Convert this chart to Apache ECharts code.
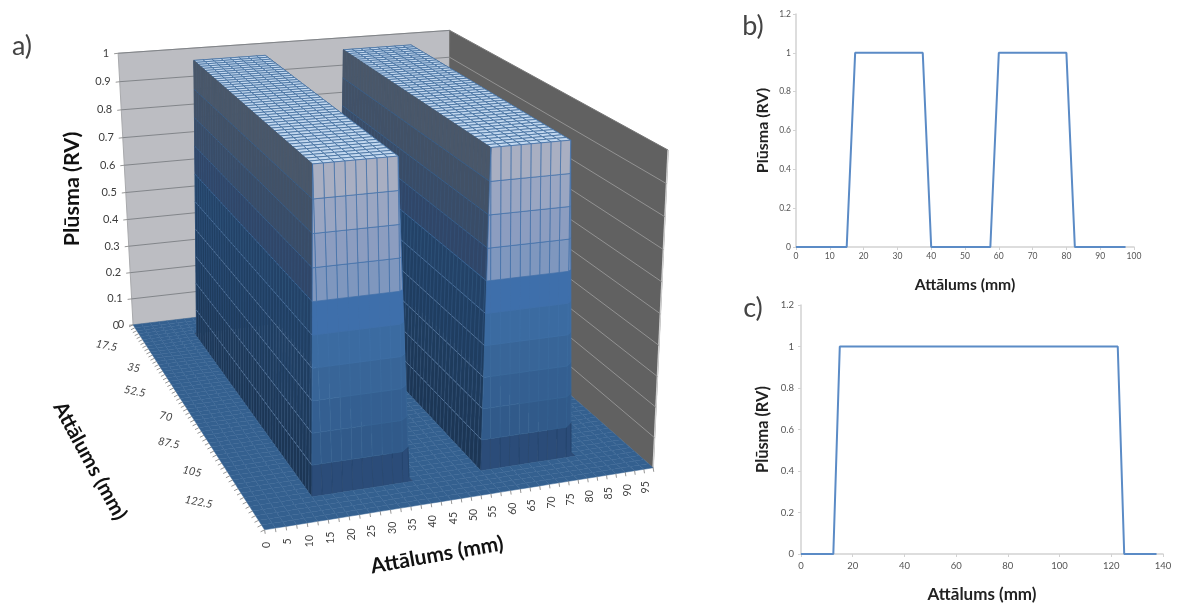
<!DOCTYPE html>
<html><head><meta charset="utf-8">
<style>html,body{margin:0;padding:0;background:#fff}#c{width:1181px;height:605px}</style>
<script src="https://cdn.jsdelivr.net/npm/echarts@6/dist/echarts.min.js"></script>
</head><body><div id="c"></div>
<script>
// ---------- data ----------
const xCategories = [0,2.5,5,7.5,10,12.5,15,17.5,20,22.5,25,27.5,30,32.5,35,37.5,40,42.5,45,47.5,50,52.5,55,57.5,60,62.5,65,67.5,70,72.5,75,77.5,80,82.5,85,87.5,90,92.5,95,97.5];
const profileX    = [0,0,0,0,0,0,0,1,1,1,1,1,1,1,1,1,0,0,0,0,0,0,0,0,1,1,1,1,1,1,1,1,1,0,0,0,0,0,0,0];
const depthCategories = [0,2.5,5,7.5,10,12.5,15,17.5,20,22.5,25,27.5,30,32.5,35,37.5,40,42.5,45,47.5,50,52.5,55,57.5,60,62.5,65,67.5,70,72.5,75,77.5,80,82.5,85,87.5,90,92.5,95,97.5,100,102.5,105,107.5,110,112.5,115,117.5,120,122.5,125,127.5,130,132.5,135,137.5];
const profileDepth    = [0,0,0,0,0,0,1,1,1,1,1,1,1,1,1,1,1,1,1,1,1,1,1,1,1,1,1,1,1,1,1,1,1,1,1,1,1,1,1,1,1,1,1,1,1,1,1,1,1,1,0,0,0,0,0,0];
const flowTicks3d  = [0,0.1,0.2,0.3,0.4,0.5,0.6,0.7,0.8,0.9,1];
const xTickLabels  = [0,5,10,15,20,25,30,35,40,45,50,55,60,65,70,75,80,85,90,95];
const depthTickLabels = [0,17.5,35,52.5,70,87.5,105,122.5];

// ---------- panel a) camera: where the box corners fall on the page ----------
const X_MAX = 97.5, D_MAX = 137.5;
const boxCorners = [
  [0,0,0,133,324],[1,0,0,448,288],[1,1,0,653,467],[0,1,0,265,531],
  [0,0,1,118,55],[1,0,1,450,29],[1,1,1,668,152],[0,1,1,254,187.5]
];
function solveCamera(pts){
  const n=11, A=Array.from({length:n},()=>new Array(n+1).fill(0));
  const add=(r,b)=>{for(let i=0;i<n;i++){for(let j=0;j<n;j++)A[i][j]+=r[i]*r[j];A[i][n]+=r[i]*b;}};
  pts.forEach(([X,Y,Z,u0,v0])=>{const u=u0/1000,v=v0/1000;
    add([X,Y,Z,1,0,0,0,0,-u*X,-u*Y,-u*Z],u);
    add([0,0,0,0,X,Y,Z,1,-v*X,-v*Y,-v*Z],v);});
  for(let c=0;c<n;c++){let p=c;for(let r=c+1;r<n;r++)if(Math.abs(A[r][c])>Math.abs(A[p][c]))p=r;
    [A[c],A[p]]=[A[p],A[c]];
    for(let r=0;r<n;r++)if(r!==c){const f=A[r][c]/A[c][c];for(let k=c;k<=n;k++)A[r][k]-=f*A[c][k];}}
  return A.map((row,i)=>row[n]/row[i]);
}
const cam = solveCamera(boxCorners);
function project(x,d,z){
  const X=x/X_MAX,Y=d/D_MAX,Z=z,w=cam[8]*X+cam[9]*Y+cam[10]*Z+1;
  return [1000*(cam[0]*X+cam[1]*Y+cam[2]*Z+cam[3])/w,1000*(cam[4]*X+cam[5]*Y+cam[6]*Z+cam[7])/w];
}

// ---------- colours ----------
const floorFill='#34608f', floorLine='#386595', topFill='#c3d8ef', topLine='#44709f';
const frontFill=['#2b4c79','#315a8a','#345f91','#386598','#3b6ba1','#3e6fab','#7f97be','#8c9dc0','#9aa6c2','#a9afc2'];
const frontLine=['#24446c','#356190','#386596','#3c6b9e','#3f70a6','#4070aa','#4070a9','#4070a9','#4070a9','#4070a9'];
const sideFill=['#1c3655','#1d3858','#1e3b5c','#1f3d60','#203f63','#234267','#304668','#394c67','#425166','#4a5769'];
const sideLine=['#28476d','#29496f','#2a4b72','#2b4d75','#2c4f77','#2e5179','#344f74','#3b5170','#41536c','#46566a'];
const sideContour=['#5d7b9f','#5d7b9f','#5d7b9f','#5d7b9f','#5d7b9f','#4f74a0','#3a689c','#35608f','#35608f','#35608f'];
const depthLabelOffset=[-17,-40,-27,-41,-26,-40,-35,-48];

const FONT='Lato, "Noto Sans", sans-serif';

// ---------- helpers ----------
function clipAbove(poly,lv,keepAbove){
  const out=[];
  for(let i=0;i<poly.length;i++){
    const a=poly[i],b=poly[(i+1)%poly.length];
    const ia=keepAbove?a[2]>=lv:a[2]<=lv, ib=keepAbove?b[2]>=lv:b[2]<=lv;
    if(ia)out.push(a);
    if(ia!==ib){const t=(lv-a[2])/(b[2]-a[2]);out.push([a[0]+t*(b[0]-a[0]),a[1]+t*(b[1]-a[1]),lv]);}
  }
  return out;
}
function contour(poly,lv){
  const pts=[];
  for(let i=0;i<poly.length;i++){
    const a=poly[i],b=poly[(i+1)%poly.length];
    if((a[2]<lv)!==(b[2]<lv)){const t=(lv-a[2])/(b[2]-a[2]);pts.push([a[0]+t*(b[0]-a[0]),a[1]+t*(b[1]-a[1]),lv]);}
  }
  return pts.length===2?pts:null;
}
const height=(i,j)=>profileX[i]*profileDepth[j];

// far rows first, right cells first: the camera stands in front and to the left
const surfaceCells=[];
for(let j=0;j<depthCategories.length-1;j++)
  for(let i=xCategories.length-2;i>=0;i--) surfaceCells.push([i,j]);

function renderCell(params,api){
  const c=surfaceCells[params.dataIndex],i=c[0],j=c[1];
  const x0=xCategories[i],x1=xCategories[i+1],d0=depthCategories[j],d1=depthCategories[j+1];
  const z00=height(i,j),z10=height(i+1,j),z11=height(i+1,j+1),z01=height(i,j+1);
  const a=[x0,d0,z00],b=[x1,d0,z10],e=[x1,d1,z11],f=[x0,d1,z01];
  const toPts=p=>p.map(q=>api.coord(project(q[0],q[1],q[2])));
  const mn=Math.min(z00,z10,z11,z01),mx=Math.max(z00,z10,z11,z01);
  const children=[];
  if(mn===mx){
    children.push({type:'polygon',shape:{points:toPts([a,b,e,f])},
      style:mx>0?{fill:topFill,stroke:topLine,lineWidth:0.8}:{fill:floorFill,stroke:floorLine,lineWidth:0.5}});
    return {type:'group',children};
  }
  const dzdx=(z10+z11)-(z00+z01), dzdd=(z01+z11)-(z00+z10);
  // a front-left corner cell folds along its diagonal into a side part and a front part
  const parts = (dzdx>0&&dzdd<0)
    ? [{poly:[b,a,f],side:true},{poly:[b,e,f],side:false}]
    : [{poly:[a,b,e,f],side:dzdx>0}];
  parts.forEach(part=>{
    const fills=part.side?sideFill:frontFill, lines=part.side?sideLine:frontLine;
    for(let k=0;k<10;k++){
      let p=clipAbove(part.poly,k/10,true);
      if(p.length>=3)p=clipAbove(p,(k+1)/10,false);
      if(p.length<3)continue;
      children.push({type:'polygon',shape:{points:toPts(p)},style:{fill:fills[k],stroke:lines[k],lineWidth:0.7}});
    }
    if(part.side)for(let k=1;k<10;k++){
      const s=contour(part.poly,k/10);
      if(s)children.push({type:'polyline',shape:{points:toPts(s)},style:{fill:null,stroke:sideContour[k],lineWidth:0.8}});
    }
  });
  return {type:'group',children};
}

function renderWalls(params,api){
  const P=(x,d,z)=>api.coord(project(x,d,z));
  const kids=[];
  kids.push({type:'polygon',shape:{points:[P(0,0,0),P(X_MAX,0,0),P(X_MAX,0,1),P(0,0,1)]},style:{fill:'#bcbdc2',stroke:'#a9aaad',lineWidth:1}});
  kids.push({type:'polygon',shape:{points:[P(X_MAX,0,0),P(X_MAX,D_MAX,0),P(X_MAX,D_MAX,1),P(X_MAX,0,1)]},style:{fill:'#616161',stroke:'#777',lineWidth:1}});
  kids.push({type:'polyline',shape:{points:[P(X_MAX,D_MAX,0),P(X_MAX,D_MAX,1)]},style:{fill:null,stroke:'#cfcfcf',lineWidth:1.5}});
  flowTicks3d.forEach(z=>{
    if(z===0)return;
    kids.push({type:'polyline',shape:{points:[P(0,0,z),P(X_MAX,0,z)]},style:{fill:null,stroke:'#7c7f83',lineWidth:0.9}});
    if(z<1)kids.push({type:'polyline',shape:{points:[P(X_MAX,0,z),P(X_MAX,D_MAX,z)]},style:{fill:null,stroke:'#929292',lineWidth:1}});
  });
  return {type:'group',children:kids};
}

function text(x,y,str,o){
  return {type:'text',x,y,rotation:o.rot||0,style:{text:String(str),x:0,y:0,fill:o.fill||'#444',
    fontSize:o.size||10,fontFamily:FONT,fontStyle:o.italic?'italic':'normal',fontWeight:o.weight||'normal',
    align:o.align||'center',verticalAlign:o.va||'middle'}};
}
function renderAxes3d(params,api){
  const P=(x,d,z)=>api.coord(project(x,d,z));
  const kids=[];
  const line=(a,b)=>kids.push({type:'polyline',shape:{points:[a,b]},style:{fill:null,stroke:'#8a8a8a',lineWidth:0.9}});
  flowTicks3d.forEach(z=>{
    const p=P(0,0,z);
    line(p,[p[0]-4,p[1]+0.5]);
    kids.push(text(p[0]-9,p[1],z,{align:'right',size:11,fill:'#3c3c3c'}));
  });
  xCategories.forEach(x=>{const p=P(x,D_MAX,0);line(p,[p[0]+0.6,p[1]+4]);});
  xTickLabels.forEach(x=>{const p=P(x,D_MAX,0);
    kids.push(text(p[0]+2,p[1]+12,x,{rot:Math.PI/2,align:'right',size:10.5}));});
  depthCategories.forEach(d=>{const p=P(0,d,0);line(p,[p[0]-4,p[1]+2]);});
  depthTickLabels.forEach((d,n)=>{const p=P(0,d,0);
    kids.push(text(p[0]+depthLabelOffset[n],p[1]+(n===0?1:0),d,{rot:n===0?0:-0.2,italic:n>0,size:11}));});
  return {type:'group',children:kids};
}

const chart=echarts.init(document.getElementById('c'),null,{renderer:'canvas'});
const axisGrey='#d2d2d2';
function lineAxes(extra){return Object.assign({type:'value',splitLine:{show:false},
  axisLine:{show:true,onZero:false,lineStyle:{color:axisGrey,width:1.5}},
  axisTick:{show:true,length:3,lineStyle:{color:axisGrey}},
  nameLocation:'middle'},extra);}
const labelB={fontSize:8.5,color:'#555',fontFamily:FONT,margin:5};
const labelC={fontSize:9.5,color:'#555',fontFamily:FONT,margin:7};
const titled=(size,gap)=>({nameGap:gap,nameTextStyle:{fontFamily:FONT,fontWeight:'bold',color:'#222',fontSize:size}});
const gtext=(x,y,t,size,rot,weight,fill)=>({type:'text',x,y,rotation:rot,silent:true,
  style:{text:t,x:0,y:0,fontSize:size,fontFamily:FONT,fontWeight:weight,fill,align:'center',verticalAlign:'middle'}});

chart.setOption({
  animation:false,
  backgroundColor:'#fff',
  grid:[
    {left:0,right:0,top:0,bottom:0,show:false},
    {left:796,right:47,top:14,bottom:358},
    {left:801,right:18,top:305,bottom:51}
  ],
  xAxis:[
    {type:'value',gridIndex:0,min:0,max:1181,show:false},
    lineAxes({gridIndex:1,min:0,max:100,interval:10,axisLabel:labelB,name:'Attālums (mm)',...titled(15.7,30)}),
    lineAxes({gridIndex:2,min:0,max:140,interval:20,axisLabel:labelC,name:'Attālums (mm)',...titled(17,32)})
  ],
  yAxis:[
    {type:'value',gridIndex:0,min:0,max:605,inverse:true,show:false},
    lineAxes({gridIndex:1,min:0,max:1.2,interval:0.2,axisLabel:labelB,name:'Plūsma (RV)',...titled(16,25)}),
    lineAxes({gridIndex:2,min:0,max:1.2,interval:0.2,axisLabel:labelC,name:'Plūsma (RV)',...titled(16.3,30)})
  ],
  graphic:{elements:[
    gtext(22,46,'a)',27,0,'normal','#444'),
    gtext(753,26,'b)',27,0,'normal','#444'),
    gtext(753,308,'c)',27,0,'normal','#444'),
    gtext(72,189,'Plūsma (RV)',21.5,Math.PI/2,'bold','#111'),
    gtext(90,461,'Attālums (mm)',20.5,-1.07,'bold','#111'),
    gtext(437,555,'Attālums (mm)',21,0.175,'bold','#111')
  ]},
  series:[
    {name:'walls',type:'custom',coordinateSystem:'cartesian2d',xAxisIndex:0,yAxisIndex:0,silent:true,
      data:[[0,0]],renderItem:renderWalls,z:1},
    {name:'surface',type:'custom',coordinateSystem:'cartesian2d',xAxisIndex:0,yAxisIndex:0,silent:true,
      progressive:0,data:surfaceCells,renderItem:renderCell,z:2},
    {name:'axes3d',type:'custom',coordinateSystem:'cartesian2d',xAxisIndex:0,yAxisIndex:0,silent:true,
      data:[[0,0]],renderItem:renderAxes3d,z:3},
    {name:'b',type:'line',xAxisIndex:1,yAxisIndex:1,showSymbol:false,symbol:'none',
      data:xCategories.map((x,i)=>[x,profileX[i]]),lineStyle:{color:'#5b8bc6',width:2}},
    {name:'c',type:'line',xAxisIndex:2,yAxisIndex:2,showSymbol:false,symbol:'none',
      data:depthCategories.map((d,i)=>[d,profileDepth[i]]),lineStyle:{color:'#5b8bc6',width:2}}
  ]
});
</script></body></html>
